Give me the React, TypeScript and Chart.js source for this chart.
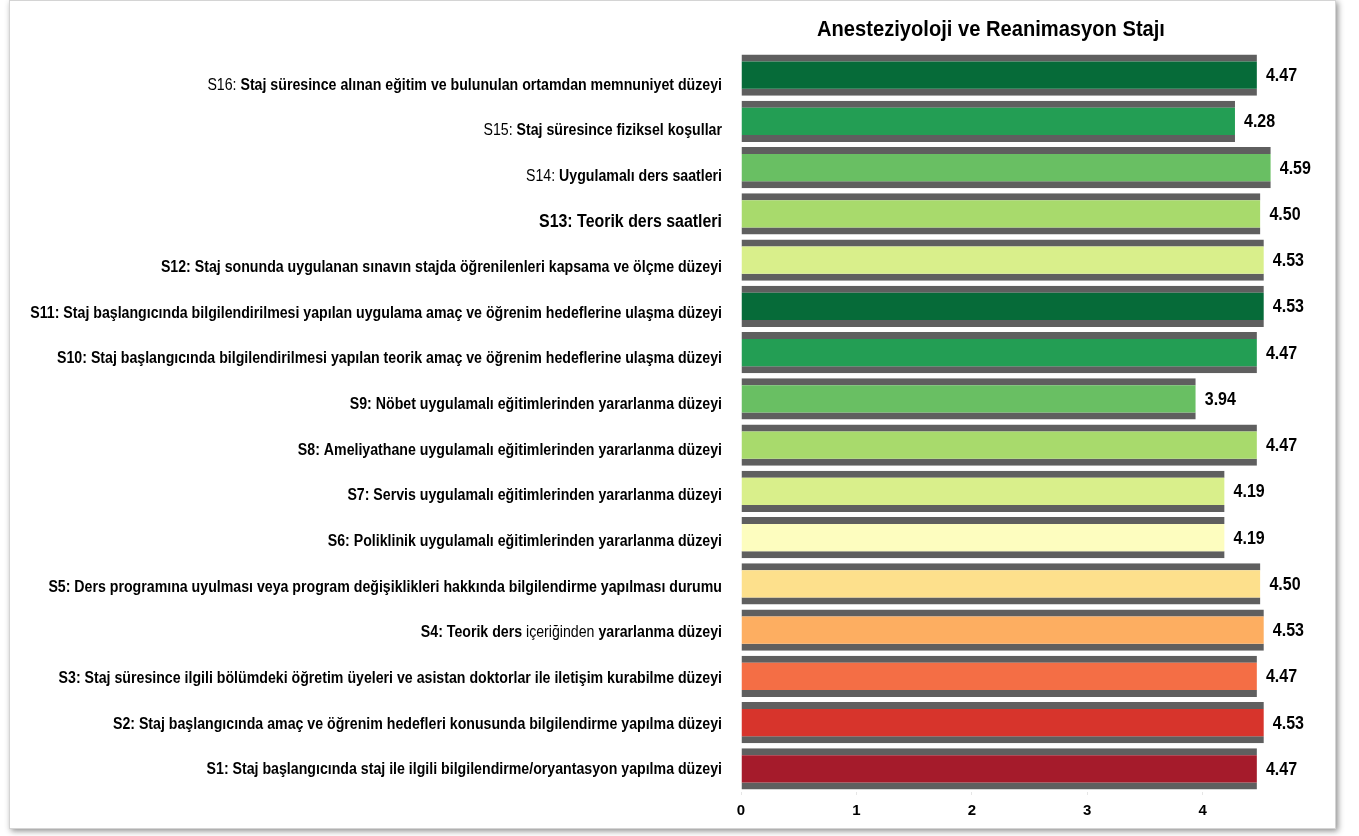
import React, { useEffect, useRef } from "react";
import { Chart, registerables } from "chart.js";

Chart.register(...registerables);

const TITLE = "Anesteziyoloji ve Reanimasyon Stajı";

const categories: string[] = [
  "S16: Staj süresince alınan eğitim ve bulunulan ortamdan memnuniyet düzeyi",
  "S15: Staj süresince fiziksel koşullar",
  "S14: Uygulamalı ders saatleri",
  "S13: Teorik ders saatleri",
  "S12: Staj sonunda uygulanan sınavın stajda öğrenilenleri kapsama ve ölçme düzeyi",
  "S11: Staj başlangıcında bilgilendirilmesi yapılan uygulama amaç ve öğrenim hedeflerine ulaşma düzeyi",
  "S10: Staj başlangıcında bilgilendirilmesi yapılan teorik amaç ve öğrenim hedeflerine ulaşma düzeyi",
  "S9: Nöbet uygulamalı eğitimlerinden yararlanma düzeyi",
  "S8: Ameliyathane uygulamalı eğitimlerinden yararlanma düzeyi",
  "S7: Servis uygulamalı eğitimlerinden yararlanma düzeyi",
  "S6: Poliklinik uygulamalı eğitimlerinden yararlanma düzeyi",
  "S5: Ders programına uyulması veya program değişiklikleri hakkında bilgilendirme yapılması durumu",
  "S4: Teorik ders içeriğinden yararlanma düzeyi",
  "S3: Staj süresince ilgili bölümdeki öğretim üyeleri ve asistan doktorlar ile iletişim kurabilme düzeyi",
  "S2: Staj başlangıcında amaç ve öğrenim hedefleri konusunda bilgilendirme yapılma düzeyi",
  "S1: Staj başlangıcında staj ile ilgili bilgilendirme/oryantasyon yapılma düzeyi",
];

// parts of each label set in regular (non-bold) weight
const regularParts: string[] = [
  "S16: ", "S15: ", "S14: ", "", "", "", "", "", "", "", "", "", "içeriğinden ", "", "", "",
];

const values: number[] = [
  4.47, 4.28, 4.59, 4.5, 4.53, 4.53, 4.47, 3.94, 4.47, 4.19, 4.19, 4.5, 4.53, 4.47, 4.53, 4.47,
];

const barColors: string[] = [
  "#066b39", "#239e54", "#69bf63", "#a8da6c", "#d9ef8b", "#066b39", "#239e54", "#69bf63",
  "#a8da6c", "#d9ef8b", "#fdfdbf", "#fde08c", "#fdae61", "#f46e45", "#d7342c", "#a51b2b",
];

const xTicks: number[] = [0, 1, 2, 3, 4];

const FONT = "'Liberation Sans', Arial, sans-serif";

function drawSqueezed(
  ctx: CanvasRenderingContext2D,
  segs: { t: string; bold: boolean }[],
  size: number,
  squeeze: number,
  x: number,
  y: number,
  align: "left" | "right" | "center"
) {
  let total = 0;
  const widths = segs.map((s) => {
    ctx.font = `${s.bold ? "bold " : ""}${size}px ${FONT}`;
    const w = ctx.measureText(s.t).width;
    total += w;
    return w;
  });
  ctx.save();
  ctx.translate(x, y);
  ctx.scale(squeeze, 1);
  let cx = align === "right" ? -total : align === "center" ? -total / 2 : 0;
  ctx.textAlign = "left";
  ctx.textBaseline = "middle";
  segs.forEach((s, i) => {
    ctx.font = `${s.bold ? "bold " : ""}${size}px ${FONT}`;
    ctx.fillText(s.t, cx, 0);
    cx += widths[i];
  });
  ctx.restore();
}

function splitLabel(label: string, regular: string) {
  if (!regular) return [{ t: label, bold: true }];
  const idx = label.indexOf(regular);
  const out: { t: string; bold: boolean }[] = [];
  if (idx > 0) out.push({ t: label.slice(0, idx), bold: true });
  out.push({ t: regular, bold: false });
  const rest = label.slice(idx + regular.length);
  if (rest) out.push({ t: rest, bold: true });
  return out;
}

export default function App() {
  const ref = useRef<HTMLCanvasElement | null>(null);

  useEffect(() => {
    if (!ref.current) return;

    const textPlugin = {
      id: "textPlugin",
      afterDraw(chart: any) {
        const { ctx, chartArea } = chart;
        ctx.save();
        ctx.fillStyle = "#000";
        // title
        drawSqueezed(ctx, [{ t: TITLE, bold: true }], 22, 0.915, chartArea.left + 250, 29, "center");
        // category labels (text boxes sit slightly lower than bar centres towards the top)
        const yScale = chart.scales.y;
        const n = categories.length;
        categories.forEach((lab, i) => {
          const y = yScale.getPixelForTick(i) + 10 - (9 * i) / (n - 1);
          const size = i === 3 ? 18 : 16;
          drawSqueezed(ctx, splitLabel(lab, regularParts[i]), size, 0.885, chartArea.left - 19, y, "right");
        });
        // value labels
        const meta = chart.getDatasetMeta(0);
        meta.data.forEach((el: any, i: number) => {
          drawSqueezed(ctx, [{ t: values[i].toFixed(2), bold: true }], 18, 0.89, el.x + 9, el.y + 1, "left");
        });
        ctx.restore();
      },
    };

    const chart = new Chart(ref.current, {
      type: "bar",
      data: {
        labels: categories,
        datasets: [
          {
            data: values,
            backgroundColor: barColors,
            borderColor: "#5f5f5f",
            borderWidth: { top: 7, bottom: 7, left: 0, right: 0 },
            borderSkipped: false,
            barPercentage: 0.89,
            categoryPercentage: 1,
          },
        ],
      },
      options: {
        indexAxis: "y",
        animation: false,
        responsive: false,
        maintainAspectRatio: false,
        layout: { padding: { top: 51, right: 40, bottom: 0, left: 0 } },
        plugins: {
          legend: { display: false },
          title: { display: false },
          tooltip: { enabled: false },
        },
        scales: {
          x: {
            type: "linear",
            min: 0,
            max: 4.8,
            afterBuildTicks: (axis: any) => {
              axis.ticks = xTicks.map((v) => ({ value: v }));
            },
            afterFit: (scale: any) => {
              scale.height = 36;
            },
            border: { display: false },
            grid: {
              display: true,
              drawOnChartArea: false,
              drawTicks: true,
              tickLength: 3,
              color: "#e6e6e6",
            },
            ticks: {
              padding: 7,
              color: "#000",
              font: { family: FONT, size: 15, weight: "bold" },
            },
          },
          y: {
            afterFit: (scale: any) => {
              scale.width = 731;
            },
            border: { display: false },
            grid: { display: false, drawTicks: false },
            ticks: { display: false },
          },
        },
      },
      plugins: [textPlugin],
    });

    return () => chart.destroy();
  }, []);

  return (
    <div
      style={{
        position: "absolute",
        left: 9,
        top: 0,
        width: 1325,
        height: 827,
        border: "1px solid #d4d4d4",
        boxShadow: "2px 2px 6px rgba(0,0,0,0.45)",
        background: "#fff",
      }}
    >
      <canvas ref={ref} width={1325} height={827} style={{ display: "block" }} />
    </div>
  );
}
